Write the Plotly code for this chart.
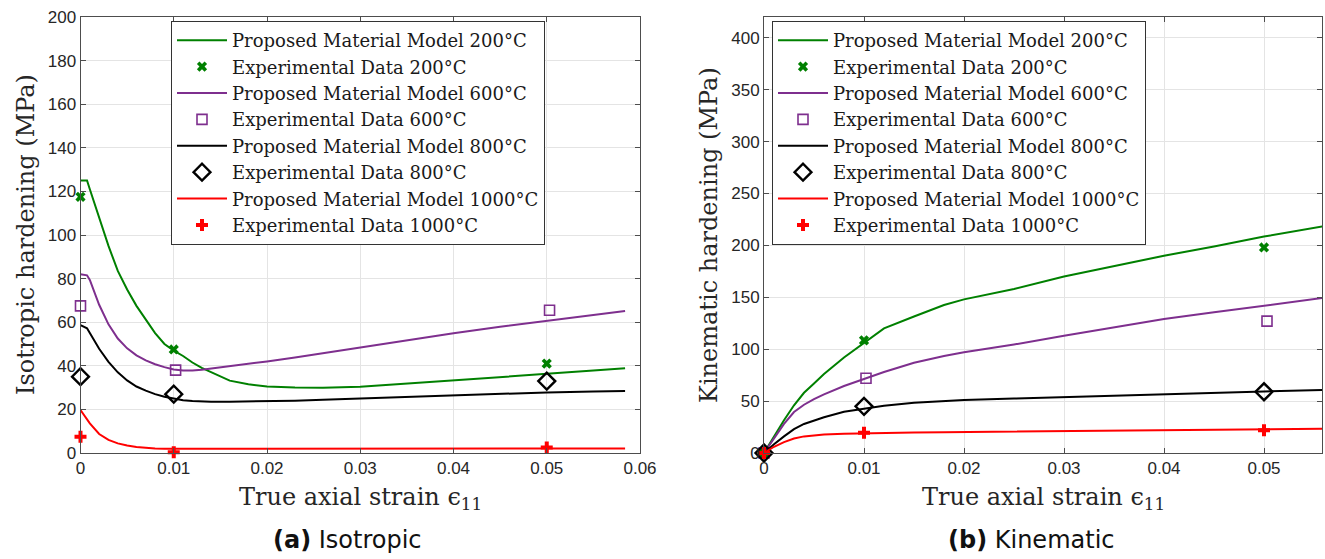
import plotly.graph_objects as go

# ---------------- data ----------------
temps = ["200", "600", "800", "1000"]
colors = ["#008000", "#7E2F8E", "#000000", "#FF0000"]

# Isotropic hardening: model curves (MPa) over axial strain
iso_strain = [0, 0.0007, 0.001, 0.002, 0.003, 0.004, 0.005, 0.006, 0.007, 0.008,
              0.009, 0.010, 0.011, 0.012, 0.013, 0.014, 0.016, 0.018, 0.020, 0.023,
              0.026, 0.030, 0.035, 0.040, 0.045, 0.050, 0.055, 0.0584]
iso_model_200 = [125, 125, 121, 107.5, 95, 83.5, 75, 67.5, 61, 55,
                 50, 47, 44.5, 41.5, 39, 37, 33.2, 31.5, 30.5, 30,
                 29.9, 30.4, 31.8, 33.4, 34.8, 36.3, 37.8, 38.9]
iso_model_600 = [82, 81.5, 79.4, 68, 59, 52.5, 48, 44.8, 42.5, 40.7,
                 39.4, 38.3, 37.9, 37.8, 38.2, 38.7, 39.9, 41, 42, 43.8,
                 45.8, 48.3, 51.6, 54.9, 57.9, 60.7, 63.5, 65.1]
iso_model_800 = [58.7, 57.2, 55, 47.8, 41.8, 37, 33.3, 30.5, 28.6, 27,
                 25.8, 24.9, 24.2, 23.8, 23.6, 23.5, 23.5, 23.6, 23.8, 24.0,
                 24.4, 25.0, 25.8, 26.6, 27.1, 27.8, 28.2, 28.4]
iso_model_1000 = [19.7, 15.5, 13.6, 8.7, 6.0, 4.4, 3.4, 2.8, 2.4, 2.1,
                  2.0, 1.9, 1.9, 1.9, 1.9, 1.9, 1.9, 1.9, 1.9, 1.9,
                  1.9, 2.0, 2.0, 2.0, 2.1, 2.1, 2.1, 2.1]

# Isotropic hardening: experimental points
exp_strain = [0, 0.01, 0.05]
exp_strain_600 = [0, 0.0102, 0.0503]
iso_exp_200 = [117.5, 47.5, 41]
iso_exp_600 = [67.5, 38, 65.5]
iso_exp_800 = [35, 27, 33]
iso_exp_1000 = [7.5, 0.3, 2.5]

# Kinematic hardening: model curves (MPa)
kin_strain = [0, 0.001, 0.002, 0.003, 0.004, 0.005, 0.006, 0.008, 0.010, 0.012,
              0.015, 0.018, 0.020, 0.025, 0.030, 0.035, 0.040, 0.045, 0.050, 0.056]
kin_model_200 = [0, 16, 31.5, 46, 58, 67, 76, 92, 106, 120,
                 131.5, 142.5, 148, 158, 170, 180, 190, 199, 208.5, 218.5]
kin_model_600 = [0, 14.5, 28, 39.5, 46.5, 52, 56.5, 64.5, 71.5, 78,
                 87, 93.5, 97, 104.5, 113, 121, 129, 135.5, 142, 149.5]
kin_model_800 = [0, 8.5, 16, 23, 28, 31.5, 34.5, 39.8, 43, 45.5,
                 48.3, 50, 51, 52.5, 54, 55.5, 56.7, 58, 59.3, 60.7]
kin_model_1000 = [0, 6, 10.5, 14, 16, 17.2, 17.9, 18.6, 19.1, 19.4,
                  19.8, 20.1, 20.3, 20.7, 21.1, 21.6, 22, 22.4, 22.8, 23.3]

# Kinematic hardening: experimental points
kin_exp_200 = [0, 108.5, 198]
kin_exp_600 = [0, 72, 127]
kin_exp_800 = [0, 45, 59]
kin_exp_1000 = [0, 19.5, 22]

# Tick labels
iso_xticks = [0, 0.01, 0.02, 0.03, 0.04, 0.05, 0.06]
iso_xlabels = ["0", "0.01", "0.02", "0.03", "0.04", "0.05", "0.06"]
iso_yticks = [0, 20, 40, 60, 80, 100, 120, 140, 160, 180, 200]
kin_xticks = [0, 0.01, 0.02, 0.03, 0.04, 0.05]
kin_xlabels = ["0", "0.01", "0.02", "0.03", "0.04", "0.05"]
kin_yticks = [0, 50, 100, 150, 200, 250, 300, 350, 400]

# ---------------- styling ----------------
SERIF = "DejaVu Serif"
SANS = "Liberation Sans"
AXIS_COL = "#4d4d4d"
GRID_COL = "#e4e4e4"
TXT_COL = "#262626"

markers = [
    dict(symbol="x", size=9, color=colors[0], line=dict(width=0)),
    dict(symbol="square-open", size=10, color=colors[1], line=dict(width=1.6)),
    dict(symbol="diamond-open", size=13, color=colors[2], line=dict(width=2.4)),
    dict(symbol="cross", size=10, color=colors[3], line=dict(width=0)),
]

fig = go.Figure()

panels = [
    dict(xa="x", ya="y", legend="legend",
         strain=iso_strain,
         models=[iso_model_200, iso_model_600, iso_model_800, iso_model_1000],
         exps=[iso_exp_200, iso_exp_600, iso_exp_800, iso_exp_1000]),
    dict(xa="x2", ya="y2", legend="legend2",
         strain=kin_strain,
         models=[kin_model_200, kin_model_600, kin_model_800, kin_model_1000],
         exps=[kin_exp_200, kin_exp_600, kin_exp_800, kin_exp_1000]),
]

for p in panels:
    for i, t in enumerate(temps):
        fig.add_trace(go.Scatter(
            x=p["strain"], y=p["models"][i], mode="lines",
            line=dict(color=colors[i], width=2),
            name=f"Proposed Material Model {t}°C",
            xaxis=p["xa"], yaxis=p["ya"], legend=p["legend"],
        ))
        fig.add_trace(go.Scatter(
            x=exp_strain_600 if t == "600" else exp_strain,
            y=p["exps"][i], mode="markers", marker=markers[i],
            name=f"Experimental Data {t}°C", cliponaxis=False,
            xaxis=p["xa"], yaxis=p["ya"], legend=p["legend"],
        ))

W, H = 1325, 559
y_dom = [(H - 453) / H, (H - 17) / H]

axis_common = dict(
    showline=True, linecolor=AXIS_COL, linewidth=1, mirror="ticks",
    ticks="inside", ticklen=5, tickcolor=AXIS_COL,
    showgrid=True, gridcolor=GRID_COL, gridwidth=1, zeroline=False,
    tickfont=dict(family=SANS, size=17, color=TXT_COL),
    automargin=False,
)

legend_common = dict(
    bgcolor="white", bordercolor="#333333", borderwidth=1,
    font=dict(family=SERIF, size=18, color="#1a1a1a"),
    xanchor="left", yanchor="top", itemwidth=50,
    tracegroupgap=0,
)

fig.update_layout(
    width=W, height=H,
    margin=dict(l=0, r=0, t=0, b=0, pad=0, autoexpand=False),
    paper_bgcolor="white", plot_bgcolor="white",
    showlegend=True,
    xaxis=dict(domain=[80.5 / W, 640 / W], range=[0, 0.06],
               tickvals=iso_xticks, ticktext=iso_xlabels, anchor="y", **axis_common),
    yaxis=dict(domain=y_dom, range=[0, 200], tickvals=iso_yticks,
               anchor="x", **axis_common),
    xaxis2=dict(domain=[764 / W, 1322 / W], range=[0, 0.0558],
                tickvals=kin_xticks, ticktext=kin_xlabels, anchor="y2", **axis_common),
    yaxis2=dict(domain=y_dom, range=[0, 420], tickvals=kin_yticks,
                anchor="x2", **axis_common),
    legend=dict(x=171 / W, y=(H - 21) / H, **legend_common),
    legend2=dict(x=772 / W, y=(H - 21) / H, **legend_common),
)

title_font = dict(family=SERIF, size=24, color=TXT_COL)
ann = [
    dict(text="True axial strain ϵ<sub>11</sub>", x=360 / W, y=(H - 498) / H,
         font=title_font),
    dict(text="True axial strain ϵ<sub>11</sub>", x=1043 / W, y=(H - 498) / H,
         font=title_font),
    dict(text="Isotropic hardening (MPa)", x=26 / W, y=(H - 235) / H,
         textangle=-90, font=title_font),
    dict(text="Kinematic hardening (MPa)", x=709 / W, y=(H - 235) / H,
         textangle=-90, font=title_font),
    dict(text="<b>(a)</b> Isotropic", x=347 / W, y=(H - 540) / H,
         font=dict(family="DejaVu Sans", size=24, color="#111111")),
    dict(text="<b>(b)</b> Kinematic", x=1031 / W, y=(H - 540) / H,
         font=dict(family="DejaVu Sans", size=24, color="#111111")),
]
for a in ann:
    fig.add_annotation(xref="paper", yref="paper", xanchor="center",
                       yanchor="middle", showarrow=False, **a)

fig.write_html("out.html")
